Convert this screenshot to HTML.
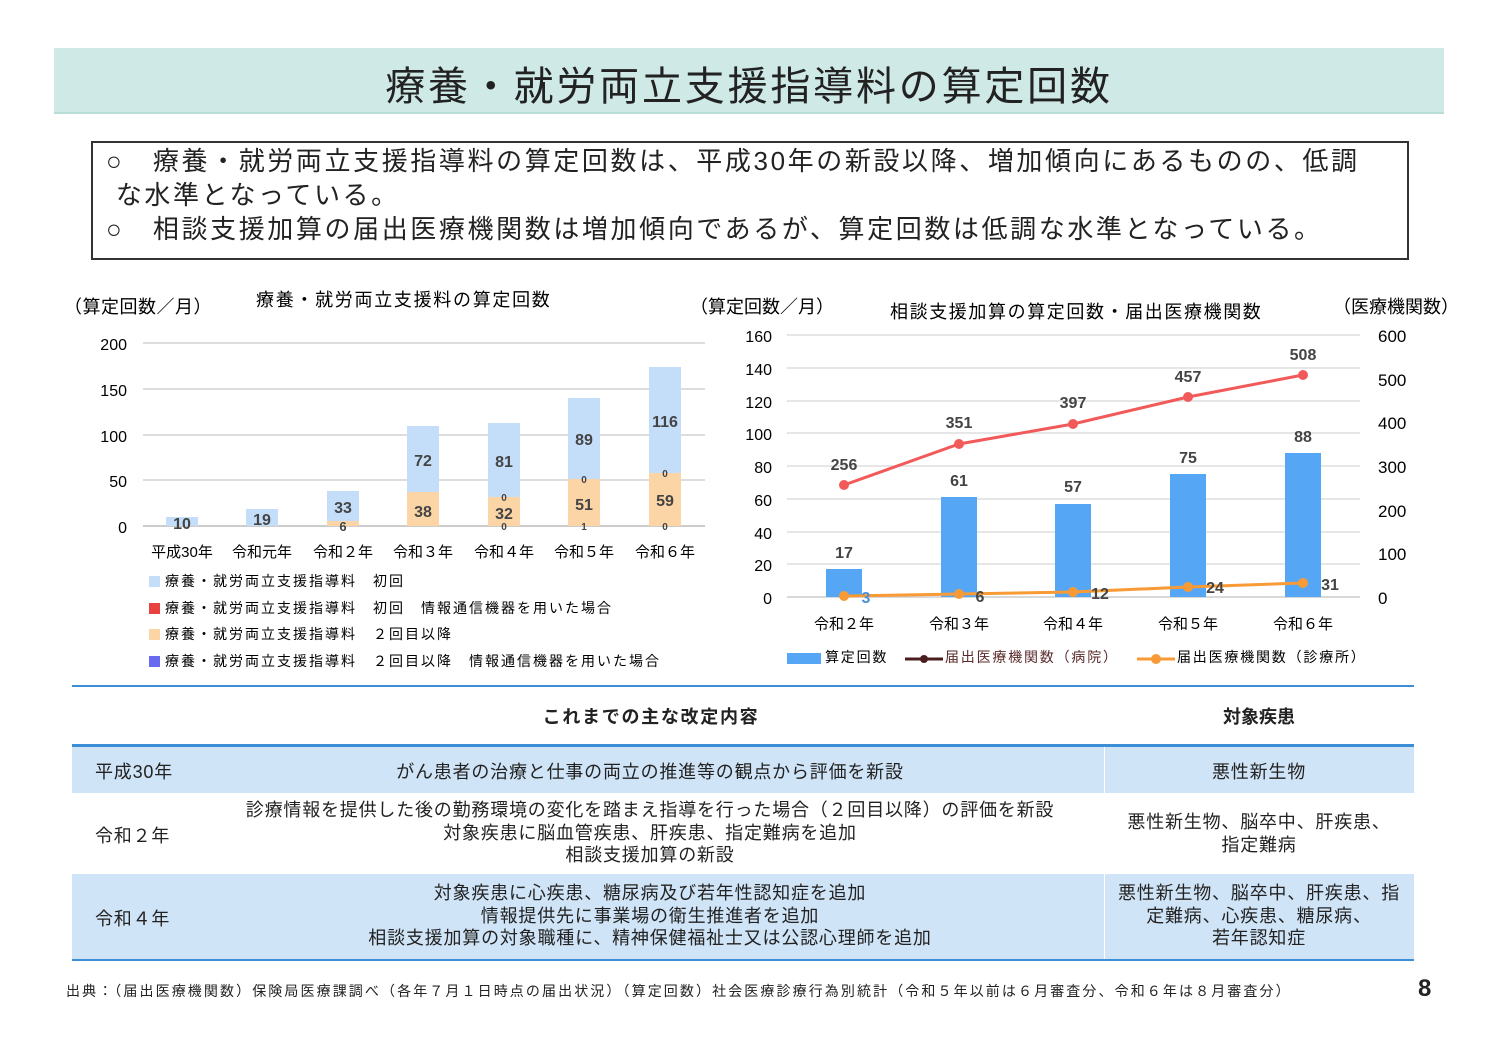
<!DOCTYPE html>
<html><head><meta charset="utf-8"><style>
body{margin:0;width:1500px;height:1061px;background:#fff;position:relative;font-family:"Liberation Sans","Noto Sans CJK JP",sans-serif;color:#222;overflow:hidden}
.a{position:absolute;white-space:nowrap}
.t{letter-spacing:0.8px}
</style></head><body>
<div class="a" style="left:54px;top:48px;width:1390px;height:64px;background:#cfe9e6;border-bottom:2px solid #b8dcd6"></div>
<div class="a" style="left:54px;top:54px;width:1390px;text-align:center;font-size:40px;letter-spacing:2.8px">療養・就労両立支援指導料の算定回数</div>
<div class="a" style="left:91px;top:141px;width:1314px;height:115px;border:2px solid #333"></div>
<div class="a" style="left:106px;top:144px;font-size:26px;line-height:34px;letter-spacing:2.6px">○　療養・就労両立支援指導料の算定回数は、平成30年の新設以降、増加傾向にあるものの、低調<br>&nbsp;な水準となっている。<br>○　相談支援加算の届出医療機関数は増加傾向であるが、算定回数は低調な水準となっている。</div>

<svg class="a" style="left:0;top:0" width="1500" height="700" font-family="Liberation Sans,Noto Sans CJK JP,sans-serif">
<text x="64" y="313" font-size="18" letter-spacing="0.5">（算定回数／月）</text>
<text x="256" y="306" font-size="18" letter-spacing="1.7">療養・就労両立支援料の算定回数</text>
<g stroke="#ddd" stroke-width="2"><line x1="143" y1="343" x2="705" y2="343"/><line x1="143" y1="389" x2="705" y2="389"/><line x1="143" y1="435" x2="705" y2="435"/><line x1="143" y1="480" x2="705" y2="480"/><line x1="143" y1="526" x2="705" y2="526" stroke="#ccc"/></g>
<g font-size="16" text-anchor="end"><text x="127" y="350">200</text><text x="127" y="396">150</text><text x="127" y="442">100</text><text x="127" y="487">50</text><text x="127" y="533">0</text></g>
<g fill="#c4defa">
<rect x="166" y="517" width="32" height="9"/><rect x="246" y="509" width="32" height="17"/><rect x="327" y="491" width="32" height="30"/><rect x="407" y="426" width="32" height="66"/><rect x="488" y="423" width="32" height="74"/><rect x="568" y="398" width="32" height="81"/><rect x="649" y="367" width="32" height="106"/></g>
<g fill="#fcd5a6"><rect x="327" y="521" width="32" height="5"/><rect x="407" y="492" width="32" height="34"/><rect x="488" y="497" width="32" height="29"/><rect x="568" y="479" width="32" height="47"/><rect x="649" y="473" width="32" height="53"/></g>
<g font-size="16" font-weight="bold" fill="#444" text-anchor="middle">
<text x="182" y="529">10</text><text x="262" y="525">19</text><text x="343" y="513">33</text><text x="343" y="531" font-size="13">6</text><text x="423" y="466">72</text><text x="423" y="517">38</text><text x="504" y="467">81</text><text x="504" y="519">32</text><text x="584" y="445">89</text><text x="584" y="510">51</text><text x="665" y="427">116</text><text x="665" y="506">59</text>
<g font-size="10"><text x="504" y="501">0</text><text x="504" y="530">0</text><text x="584" y="483">0</text><text x="584" y="530">1</text><text x="665" y="477">0</text><text x="665" y="530">0</text></g></g>
<g font-size="15" text-anchor="middle"><text x="182" y="557">平成30年</text><text x="262" y="557">令和元年</text><text x="343" y="557">令和２年</text><text x="423" y="557">令和３年</text><text x="504" y="557">令和４年</text><text x="584" y="557">令和５年</text><text x="665" y="557">令和６年</text></g>
<g font-size="14" letter-spacing="2"><rect x="149" y="576" width="11" height="11" fill="#c4defa"/><text x="165" y="586">療養・就労両立支援指導料　初回</text>
<rect x="149" y="603" width="11" height="11" fill="#e8413f"/><text x="165" y="613">療養・就労両立支援指導料　初回　情報通信機器を用いた場合</text>
<rect x="149" y="629" width="11" height="11" fill="#fcd5a6"/><text x="165" y="639">療養・就労両立支援指導料　２回目以降</text>
<rect x="149" y="656" width="11" height="11" fill="#6a6af0"/><text x="165" y="666">療養・就労両立支援指導料　２回目以降　情報通信機器を用いた場合</text></g>

<text x="690" y="313" font-size="18">（算定回数／月）</text>
<text x="890" y="318" font-size="18" letter-spacing="1.6">相談支援加算の算定回数・届出医療機関数</text>
<text x="1333" y="313" font-size="18">（医療機関数）</text>
<g stroke="#ddd" stroke-width="1.5"><line x1="787" y1="335" x2="1360" y2="335"/><line x1="787" y1="368" x2="1360" y2="368"/><line x1="787" y1="401" x2="1360" y2="401"/><line x1="787" y1="433" x2="1360" y2="433"/><line x1="787" y1="466" x2="1360" y2="466"/><line x1="787" y1="499" x2="1360" y2="499"/><line x1="787" y1="532" x2="1360" y2="532"/><line x1="787" y1="564" x2="1360" y2="564"/><line x1="787" y1="597" x2="1360" y2="597" stroke="#ccc"/></g>
<g font-size="16" text-anchor="end"><text x="772" y="342">160</text><text x="772" y="375">140</text><text x="772" y="408">120</text><text x="772" y="440">100</text><text x="772" y="473">80</text><text x="772" y="506">60</text><text x="772" y="539">40</text><text x="772" y="571">20</text><text x="772" y="604">0</text></g>
<g font-size="17"><text x="1378" y="342">600</text><text x="1378" y="386">500</text><text x="1378" y="429">400</text><text x="1378" y="473">300</text><text x="1378" y="517">200</text><text x="1378" y="560">100</text><text x="1378" y="604">0</text></g>
<g fill="#55a7f5"><rect x="826" y="569" width="36" height="28"/><rect x="941" y="497" width="36" height="100"/><rect x="1055" y="504" width="36" height="93"/><rect x="1170" y="474" width="36" height="123"/><rect x="1285" y="453" width="36" height="144"/></g>
<polyline points="844,485 959,444 1073,424 1188,397 1303,375" fill="none" stroke="#f25a5a" stroke-width="3"/>
<g fill="#f25a5a"><circle cx="844" cy="485" r="5"/><circle cx="959" cy="444" r="5"/><circle cx="1073" cy="424" r="5"/><circle cx="1188" cy="397" r="5"/><circle cx="1303" cy="375" r="5"/></g>
<polyline points="844,596 959,594 1073,592 1188,587 1303,583" fill="none" stroke="#f89a36" stroke-width="3"/>
<g fill="#f89a36"><circle cx="844" cy="596" r="5"/><circle cx="959" cy="594" r="5"/><circle cx="1073" cy="592" r="5"/><circle cx="1188" cy="587" r="5"/><circle cx="1303" cy="583" r="5"/></g>
<g font-size="16" font-weight="bold" fill="#444" text-anchor="middle"><text x="844" y="470">256</text><text x="959" y="428">351</text><text x="1073" y="408">397</text><text x="1188" y="382">457</text><text x="1303" y="360">508</text>
<text x="844" y="558">17</text><text x="959" y="486">61</text><text x="1073" y="492">57</text><text x="1188" y="463">75</text><text x="1303" y="442">88</text>
<text x="866" y="603" fill="#4a8fd8">3</text><text x="980" y="602">6</text><text x="1100" y="599">12</text><text x="1215" y="593">24</text><text x="1330" y="590">31</text></g>
<g font-size="15" text-anchor="middle"><text x="844" y="629">令和２年</text><text x="959" y="629">令和３年</text><text x="1073" y="629">令和４年</text><text x="1188" y="629">令和５年</text><text x="1303" y="629">令和６年</text></g>
<g font-size="14" letter-spacing="1.8"><rect x="787" y="653" width="34" height="11" fill="#55a7f5"/><text x="825" y="662">算定回数</text>
<line x1="905" y1="659" x2="943" y2="659" stroke="#4a1e1e" stroke-width="3"/><circle cx="924" cy="659" r="4" fill="#4a1e1e"/><text x="945" y="662" fill="#5a2a2a">届出医療機関数（病院）</text>
<line x1="1137" y1="659" x2="1175" y2="659" stroke="#f89a36" stroke-width="3"/><circle cx="1156" cy="659" r="5" fill="#f89a36"/><text x="1177" y="662">届出医療機関数（診療所）</text></g>
</svg>

<div class="a" style="left:72px;top:685px;width:1342px;border-top:2px solid #3c8fd6"></div>
<div class="a" style="left:72px;top:703px;width:1158px;text-align:center;font-size:18px;font-weight:bold;letter-spacing:1.7px">これまでの主な改定内容</div>
<div class="a" style="left:1105px;top:703px;width:308px;text-align:center;font-size:18px;font-weight:bold">対象疾患</div>
<div class="a" style="left:72px;top:744px;width:1342px;border-top:3px solid #3c8fd6"></div>
<div class="a" style="left:72px;top:747px;width:1342px;height:46px;background:#d0e4f7"></div>
<div class="a" style="left:72px;top:874px;width:1342px;height:85px;background:#d0e4f7"></div>
<div class="a" style="left:1104px;top:747px;height:212px;border-left:1px solid #fff"></div>
<div class="a" style="left:72px;top:959px;width:1342px;border-top:2px solid #3c8fd6"></div>
<div class="a t" style="left:95px;top:758px;font-size:18px">平成30年</div>
<div class="a t" style="left:200px;top:758px;width:900px;text-align:center;font-size:18px">がん患者の治療と仕事の両立の推進等の観点から評価を新設</div>
<div class="a t" style="left:1105px;top:758px;width:308px;text-align:center;font-size:18px">悪性新生物</div>
<div class="a t" style="left:95px;top:822px;font-size:18px">令和２年</div>
<div class="a t" style="left:200px;top:799px;width:900px;text-align:center;font-size:18px;line-height:22.5px">診療情報を提供した後の勤務環境の変化を踏まえ指導を行った場合（２回目以降）の評価を新設<br>対象疾患に脳血管疾患、肝疾患、指定難病を追加<br>相談支援加算の新設</div>
<div class="a t" style="left:1105px;top:811px;width:308px;text-align:center;font-size:18px;line-height:22.5px">悪性新生物、脳卒中、肝疾患、<br>指定難病</div>
<div class="a t" style="left:95px;top:905px;font-size:18px">令和４年</div>
<div class="a t" style="left:200px;top:882px;width:900px;text-align:center;font-size:18px;line-height:22.5px">対象疾患に心疾患、糖尿病及び若年性認知症を追加<br>情報提供先に事業場の衛生推進者を追加<br>相談支援加算の対象職種に、精神保健福祉士又は公認心理師を追加</div>
<div class="a t" style="left:1105px;top:882px;width:308px;text-align:center;font-size:18px;line-height:22.5px">悪性新生物、脳卒中、肝疾患、指<br>定難病、心疾患、糖尿病、<br>若年認知症</div>
<div class="a" style="left:66px;top:981px;font-size:14px;letter-spacing:2.1px">出典：（届出医療機関数）保険局医療課調べ（各年７月１日時点の届出状況）（算定回数）社会医療診療行為別統計（令和５年以前は６月審査分、令和６年は８月審査分）</div>
<div class="a" style="left:1418px;top:975px;font-size:24px;font-weight:bold">8</div>
</body></html>
